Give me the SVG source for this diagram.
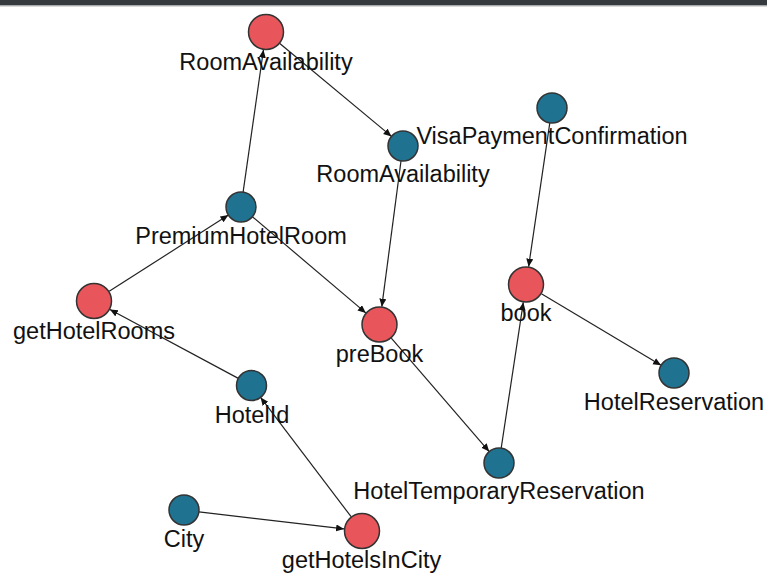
<svg xmlns="http://www.w3.org/2000/svg" width="767" height="574" viewBox="0 0 767 574">
<style>
.op{fill:#e8555a;stroke:#333;stroke-width:1.5}
.ty{fill:#1f7391;stroke:#333;stroke-width:1.5}
.lbl{font-family:"Liberation Sans",Helvetica,Arial,sans-serif;font-size:23.5px;fill:#111;text-anchor:middle}
.edge{stroke:#222;stroke-width:1.2;fill:none;marker-end:url(#arr)}
</style>
<defs>
<marker id="arr" markerUnits="userSpaceOnUse" markerWidth="9" markerHeight="8" refX="8" refY="3.5" orient="auto">
<path d="M0,0 L8,3.5 L0,7 z" fill="#111"/>
</marker>
</defs>
<rect x="0" y="0" width="767" height="574" fill="#fff"/>
<rect x="0" y="0" width="767" height="5.5" fill="#343a3e"/>
<line x1="0" y1="6" x2="767" y2="6" stroke="#b5b5b5" stroke-width="1"/>
<g id="connectors">
<line class="edge" x1="243.1" y1="192.2" x2="263.45" y2="49.8"/>
<line class="edge" x1="279.8" y1="43.5" x2="391.5" y2="136.4"/>
<line class="edge" x1="401.0" y1="160.9" x2="381.8" y2="306.7"/>
<line class="edge" x1="252.4" y1="216.7" x2="365.8" y2="312.9"/>
<line class="edge" x1="109.2" y1="291.3" x2="228.4" y2="215.1"/>
<line class="edge" x1="238.3" y1="378.4" x2="109.9" y2="309.5"/>
<line class="edge" x1="351.1" y1="516.7" x2="260.6" y2="397.4"/>
<line class="edge" x1="198.9" y1="511.8" x2="344.1" y2="528.9"/>
<line class="edge" x1="391.3" y1="338.1" x2="489.2" y2="451.6"/>
<line class="edge" x1="501.2" y1="448.2" x2="523.3" y2="302.3"/>
<line class="edge" x1="549.8" y1="122.8" x2="528.6" y2="266.7"/>
<line class="edge" x1="541.4" y1="293.7" x2="661.1" y2="365.3"/>
</g>
<g id="node-roomavailability-op"><circle class="op" cx="266" cy="32" r="17.5"/><text class="lbl" x="266" y="70">RoomAvailability</text></g>
<g id="node-roomavailability-type"><circle class="ty" cx="403" cy="146" r="15"/><text class="lbl" x="403" y="182">RoomAvailability</text></g>
<g id="node-visapaymentconfirmation"><circle class="ty" cx="552" cy="108" r="15"/><text class="lbl" x="552" y="144">VisaPaymentConfirmation</text></g>
<g id="node-premiumhotelroom"><circle class="ty" cx="241" cy="207" r="15"/><text class="lbl" x="241" y="244">PremiumHotelRoom</text></g>
<g id="node-gethotelrooms"><circle class="op" cx="94" cy="301" r="17.5"/><text class="lbl" x="94" y="339">getHotelRooms</text></g>
<g id="node-prebook"><circle class="op" cx="379.5" cy="324.5" r="17.5"/><text class="lbl" x="379.5" y="361.5">preBook</text></g>
<g id="node-book"><circle class="op" cx="526" cy="284.5" r="17.5"/><text class="lbl" x="526" y="321">book</text></g>
<g id="node-hotelreservation"><circle class="ty" cx="674" cy="373" r="15"/><text class="lbl" x="674" y="409.5">HotelReservation</text></g>
<g id="node-hoteltemporaryreservation"><circle class="ty" cx="499" cy="463" r="15"/><text class="lbl" x="499" y="498.5">HotelTemporaryReservation</text></g>
<g id="node-hotelid"><circle class="ty" cx="251.5" cy="385.5" r="15"/><text class="lbl" x="252" y="423">HotelId</text></g>
<g id="node-city"><circle class="ty" cx="184" cy="510" r="15"/><text class="lbl" x="184" y="547">City</text></g>
<g id="node-gethotelsincity"><circle class="op" cx="362" cy="531" r="17.5"/><text class="lbl" x="361.5" y="568">getHotelsInCity</text></g>
</svg>
